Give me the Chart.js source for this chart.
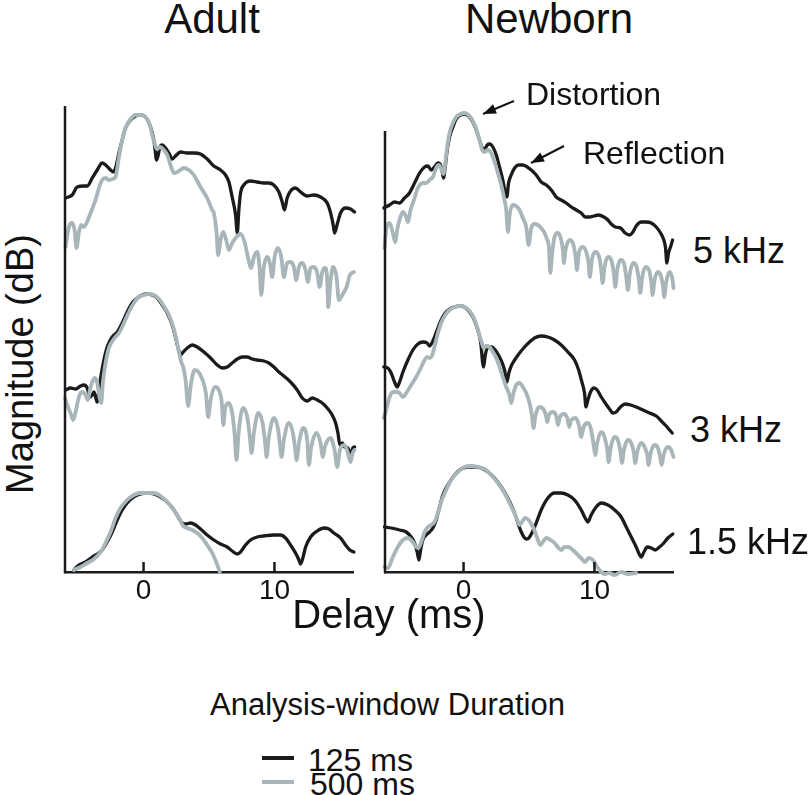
<!DOCTYPE html>
<html>
<head>
<meta charset="utf-8">
<script src="https://cdn.jsdelivr.net/npm/chart.js@4.4.1/dist/chart.umd.min.js"></script>
<style>
  html, body { margin:0; padding:0; background:#fff; }
  body { width:810px; height:795px; position:relative; overflow:hidden; font-family:"Liberation Sans", Arial, Helvetica, sans-serif; color:#111; }
  .t { position:absolute; line-height:1; white-space:nowrap; }
  canvas { position:absolute; }
</style>
</head>
<body>
<script>
// ---------------- data (delay in ms, relative magnitude) ----------------
const xTicks = [0, 10];
const panelTitles = ["Adult", "Newborn"];
const freqLabels = ["5 kHz", "3 kHz", "1.5 kHz"];
const legendLabels = ["125 ms", "500 ms"];

const adult5k_125 = [[-5.95,374],[-5.45,377],[-5.07,385],[-4.56,386],[-4.30,386],[-3.92,394],[-3.54,402],[-3.16,409],[-2.90,407],[-2.52,402],[-2.32,400],[-2.14,404],[-1.88,419],[-1.63,432],[-1.38,444],[-0.99,452],[-0.61,456],[-0.23,457],[0.15,455],[0.48,447],[0.74,435],[0.87,424],[0.99,412],[1.12,417],[1.25,425],[1.43,427],[1.68,424],[1.94,419],[2.19,413],[2.44,416],[2.83,420],[3.33,419],[3.84,419],[4.35,418],[4.86,413],[5.37,406],[5.88,402],[6.26,397],[6.52,390],[6.77,375],[7.03,357],[7.16,339],[7.28,362],[7.41,379],[7.66,387],[8.17,391],[8.68,390],[9.19,389],[9.57,389],[9.95,387],[10.34,380],[10.59,370],[10.77,362],[10.97,374],[11.23,381],[11.61,384],[11.99,380],[12.50,376],[13.01,377],[13.52,375],[14.03,369],[14.29,359],[14.49,347],[14.59,339],[14.80,348],[15.05,359],[15.43,364],[15.81,363],[16.12,360]];
const adult5k_500 = [[-5.96,325],[-5.70,345],[-5.45,349],[-5.27,342],[-5.12,324],[-4.94,340],[-4.76,347],[-4.56,345],[-4.35,349],[-4.05,359],[-3.67,372],[-3.41,384],[-3.16,392],[-2.90,394],[-2.65,392],[-2.39,393],[-2.14,395],[-1.88,415],[-1.63,432],[-1.38,444],[-0.99,453],[-0.61,457],[-0.23,457],[0.15,455],[0.48,447],[0.66,437],[0.84,429],[1.04,423],[1.25,425],[1.55,422],[1.81,417],[2.06,407],[2.32,399],[2.70,401],[3.08,404],[3.46,402],[3.84,397],[4.35,385],[4.86,374],[5.24,362],[5.37,359],[5.58,339],[5.70,317],[5.88,332],[6.09,340],[6.31,332],[6.52,322],[6.77,329],[7.10,335],[7.41,338],[7.72,330],[7.97,315],[8.22,304],[8.43,315],[8.68,320],[8.86,305],[8.99,277],[9.19,305],[9.45,315],[9.65,309],[9.83,295],[10.01,315],[10.26,324],[10.52,315],[10.72,295],[10.97,309],[11.23,310],[11.48,305],[11.66,292],[11.87,305],[12.12,309],[12.38,302],[12.55,290],[12.76,304],[13.01,305],[13.27,299],[13.45,285],[13.65,300],[13.90,304],[14.03,292],[14.11,265],[14.29,292],[14.49,305],[14.74,295],[14.92,272],[15.18,277],[15.51,285],[15.76,297],[16.07,300]];
const adult3k_125 = [[-5.96,182],[-5.58,184],[-5.19,183],[-4.81,186],[-4.56,187],[-4.30,184],[-4.10,175],[-3.92,177],[-3.79,180],[-3.67,175],[-3.54,170],[-3.41,182],[-3.28,194],[-3.03,212],[-2.78,225],[-2.39,235],[-2.01,240],[-1.63,249],[-1.25,260],[-0.87,269],[-0.48,274],[-0.10,277],[0.28,278],[0.66,277],[1.04,274],[1.43,267],[1.81,259],[2.19,247],[2.44,235],[2.62,225],[2.83,217],[3.03,220],[3.34,224],[3.72,227],[4.10,225],[4.61,220],[5.12,214],[5.63,207],[6.01,204],[6.39,205],[6.77,209],[7.16,213],[7.54,215],[7.92,215],[8.30,213],[8.68,212],[9.19,211],[9.57,209],[9.96,205],[10.34,200],[10.72,196],[11.23,190],[11.74,182],[12.12,174],[12.50,171],[12.89,174],[13.27,172],[13.65,169],[14.03,164],[14.41,157],[14.67,149],[14.85,139],[15.00,127],[15.18,129],[15.36,125],[15.61,124],[15.81,118],[15.99,124],[16.12,125]];
const adult3k_500 = [[-6.0,174],[-5.83,167],[-5.58,159],[-5.37,152],[-5.19,160],[-4.94,175],[-4.69,180],[-4.43,177],[-4.25,172],[-4.10,182],[-3.92,190],[-3.72,194],[-3.54,189],[-3.36,175],[-3.23,169],[-3.11,189],[-2.90,209],[-2.65,224],[-2.27,233],[-1.88,239],[-1.50,249],[-1.12,260],[-0.74,269],[-0.36,275],[0.03,277],[0.41,278],[0.79,277],[1.17,273],[1.55,266],[1.94,257],[2.27,245],[2.52,232],[2.70,220],[2.88,210],[3.03,205],[3.21,192],[3.41,166],[3.59,185],[3.90,202],[4.20,200],[4.51,192],[4.76,179],[4.94,155],[5.12,172],[5.45,185],[5.78,181],[5.98,169],[6.09,147],[6.24,164],[6.52,169],[6.77,159],[6.95,139],[7.10,112],[7.28,142],[7.61,164],[7.92,155],[8.12,135],[8.25,119],[8.43,139],[8.76,159],[9.09,149],[9.29,129],[9.40,115],[9.57,135],[9.96,154],[10.26,144],[10.44,125],[10.54,115],[10.72,132],[11.10,149],[11.41,139],[11.59,122],[11.69,112],[11.87,129],[12.20,144],[12.50,132],[12.63,107],[12.81,125],[13.22,139],[13.52,129],[13.70,115],[13.85,125],[14.29,134],[14.59,122],[14.80,105],[15.00,122],[15.36,127],[15.61,119],[15.81,110],[15.97,119],[16.12,122]];
const adult15k_125 = [[-5.32,2],[-4.94,7],[-4.43,10],[-3.92,15],[-3.41,19],[-3.16,22],[-2.78,30],[-2.39,40],[-2.01,52],[-1.63,62],[-1.25,69],[-0.74,75],[-0.23,78],[0.28,79],[0.79,78],[1.30,75],[1.81,70],[2.32,62],[2.70,54],[2.95,49],[3.21,48],[3.59,49],[3.97,47],[4.35,43],[4.86,37],[5.37,32],[5.88,28],[6.39,25],[6.77,21],[7.16,18],[7.41,20],[7.79,27],[8.17,32],[8.68,35],[9.19,36],[9.96,37],[10.47,37],[10.85,34],[11.23,27],[11.61,19],[11.87,12],[11.99,8],[12.17,14],[12.38,25],[12.76,35],[13.27,41],[13.78,44],[14.16,43],[14.54,39],[15.05,34],[15.43,27],[15.76,22],[16.07,20]];
const adult15k_500 = [[-5.32,2],[-4.81,5],[-4.30,9],[-3.79,13],[-3.28,20],[-2.90,29],[-2.52,40],[-2.14,54],[-1.76,64],[-1.25,72],[-0.74,77],[-0.23,79],[0.28,79],[0.79,79],[1.30,76],[1.81,70],[2.32,62],[2.70,54],[3.03,46],[3.34,44],[3.72,42],[4.10,39],[4.48,34],[4.86,27],[5.25,19],[5.58,9],[5.83,0]];

const newborn5k_125 = [[-6.09,364],[-5.65,367],[-5.27,370],[-4.89,369],[-4.51,374],[-4.13,379],[-3.74,389],[-3.36,399],[-2.98,405],[-2.72,406],[-2.47,402],[-2.22,405],[-1.96,409],[-1.76,407],[-1.63,400],[-1.53,394],[-1.40,405],[-1.25,422],[-1.07,435],[-0.81,445],[-0.56,453],[-0.23,457],[0.08,458],[0.38,456],[0.71,450],[0.97,442],[1.22,432],[1.40,425],[1.60,423],[1.81,427],[1.99,428],[2.24,425],[2.50,417],[2.75,405],[3.00,392],[3.18,380],[3.31,375],[3.44,389],[3.64,397],[3.90,404],[4.20,407],[4.53,407],[4.86,405],[5.17,402],[5.55,397],[5.93,390],[6.32,387],[6.70,382],[7.08,375],[7.46,372],[7.84,369],[8.23,365],[8.61,362],[8.99,359],[9.29,355],[9.63,355],[9.96,356],[10.31,357],[10.72,355],[11.03,352],[11.28,348],[11.59,345],[11.99,344],[12.35,339],[12.68,337],[12.94,340],[13.19,346],[13.57,350],[13.95,350],[14.34,349],[14.72,345],[15.05,339],[15.30,332],[15.43,324],[15.53,309],[15.66,319],[15.81,325],[15.97,332]];
const newborn5k_500 = [[-6.04,324],[-5.91,342],[-5.65,349],[-5.40,339],[-5.22,330],[-5.07,342],[-4.89,352],[-4.63,360],[-4.38,355],[-4.25,350],[-4.05,362],[-3.79,372],[-3.49,384],[-3.11,389],[-2.85,389],[-2.60,392],[-2.34,395],[-2.09,404],[-1.91,407],[-1.76,405],[-1.63,400],[-1.53,398],[-1.40,409],[-1.25,425],[-1.07,439],[-0.81,449],[-0.56,455],[-0.23,458],[0.08,459],[0.38,457],[0.71,451],[0.97,443],[1.22,432],[1.40,423],[1.60,420],[1.86,422],[2.11,419],[2.37,410],[2.62,399],[2.88,387],[3.08,375],[3.26,362],[3.39,340],[3.54,359],[3.77,367],[4.02,366],[4.28,362],[4.53,354],[4.79,345],[4.97,327],[5.17,344],[5.42,348],[5.68,347],[5.93,344],[6.19,339],[6.39,332],[6.52,325],[6.62,299],[6.77,319],[6.95,335],[7.21,339],[7.46,332],[7.59,322],[7.66,309],[7.79,322],[8.10,332],[8.35,329],[8.56,315],[8.66,302],[8.81,319],[9.12,325],[9.37,320],[9.55,309],[9.65,295],[9.80,312],[10.06,320],[10.31,317],[10.52,302],[10.62,289],[10.77,305],[11.03,315],[11.28,312],[11.48,299],[11.59,285],[11.74,302],[11.99,312],[12.25,309],[12.43,295],[12.55,282],[12.71,299],[12.96,309],[13.22,305],[13.39,292],[13.50,279],[13.65,295],[13.90,305],[14.16,302],[14.34,290],[14.44,277],[14.59,292],[14.85,300],[15.05,297],[15.23,287],[15.33,275],[15.48,290],[15.74,300],[15.94,294],[16.04,284]];
const newborn3k_125 = [[-6.09,205],[-5.78,204],[-5.53,199],[-5.27,190],[-5.07,185],[-4.89,190],[-4.63,200],[-4.25,212],[-3.87,222],[-3.49,228],[-3.11,230],[-2.78,229],[-2.60,226],[-2.42,229],[-2.22,235],[-1.96,244],[-1.71,252],[-1.40,259],[-1.07,263],[-0.69,265],[-0.31,266],[0.08,265],[0.46,260],[0.79,253],[1.04,244],[1.25,234],[1.35,225],[1.45,210],[1.53,205],[1.66,217],[1.86,225],[2.16,225],[2.42,222],[2.67,217],[2.93,210],[3.13,202],[3.31,190],[3.46,199],[3.64,206],[3.90,212],[4.28,219],[4.66,225],[5.04,230],[5.42,234],[5.93,236],[6.44,235],[6.95,232],[7.46,227],[7.97,220],[8.48,212],[8.79,202],[9.04,190],[9.24,179],[9.35,165],[9.50,172],[9.70,180],[9.96,184],[10.21,182],[10.52,175],[10.82,169],[11.15,163],[11.41,159],[11.66,160],[11.99,165],[12.35,168],[12.76,167],[13.19,165],[13.70,162],[14.21,159],[14.72,156],[15.10,151],[15.48,146],[15.74,142],[15.94,139]];
const newborn3k_500 = [[-6.09,154],[-5.91,162],[-5.65,175],[-5.40,180],[-5.14,180],[-4.89,179],[-4.63,175],[-4.38,179],[-4.00,187],[-3.62,195],[-3.23,205],[-2.98,212],[-2.78,215],[-2.60,214],[-2.42,216],[-2.22,225],[-1.96,239],[-1.71,249],[-1.40,257],[-1.07,262],[-0.69,265],[-0.31,266],[0.08,265],[0.46,261],[0.79,254],[1.04,245],[1.25,235],[1.40,229],[1.55,224],[1.73,226],[1.99,225],[2.24,220],[2.50,214],[2.75,205],[3.00,195],[3.26,185],[3.51,177],[3.64,169],[3.82,179],[4.02,187],[4.28,189],[4.53,185],[4.79,179],[5.04,169],[5.22,157],[5.35,144],[5.50,157],[5.81,165],[6.14,162],[6.32,155],[6.39,150],[6.52,157],[6.82,160],[7.08,156],[7.21,147],[7.36,155],[7.66,158],[7.92,154],[8.07,145],[8.23,152],[8.56,154],[8.81,147],[8.99,135],[9.17,145],[9.50,149],[9.75,142],[9.96,125],[10.06,117],[10.21,129],[10.52,140],[10.77,135],[10.98,122],[11.08,110],[11.23,124],[11.54,135],[11.79,132],[11.99,120],[12.10,109],[12.25,122],[12.55,132],[12.81,129],[13.01,119],[13.11,109],[13.27,120],[13.57,129],[13.83,125],[14.03,117],[14.13,107],[14.29,119],[14.59,127],[14.85,124],[15.02,115],[15.13,107],[15.28,117],[15.61,125],[15.86,122],[16.04,115]];
const newborn15k_125 = [[-6.04,45],[-5.53,44],[-4.89,42],[-4.38,40],[-4.00,35],[-3.74,29],[-3.54,20],[-3.41,12],[-3.28,22],[-3.11,32],[-2.85,37],[-2.60,40],[-2.34,44],[-2.09,52],[-1.83,65],[-1.58,77],[-1.20,87],[-0.69,97],[-0.18,103],[0.33,105],[0.84,105],[1.35,104],[1.86,100],[2.37,94],[2.88,85],[3.26,77],[3.64,67],[3.95,57],[4.20,47],[4.41,40],[4.61,35],[4.79,33],[4.99,34],[5.22,39],[5.55,49],[5.93,62],[6.44,74],[6.95,79],[7.46,79],[7.97,77],[8.48,72],[8.99,62],[9.29,54],[9.50,50],[9.75,57],[10.13,65],[10.52,69],[11.03,67],[11.54,62],[12.04,55],[12.43,45],[12.81,35],[13.19,25],[13.45,17],[13.57,15],[13.78,20],[14.03,25],[14.34,24],[14.64,22],[14.97,25],[15.30,29],[15.61,34],[15.99,38]];
const newborn15k_500 = [[-6.04,5],[-5.78,4],[-5.40,15],[-5.02,25],[-4.63,32],[-4.25,34],[-3.87,30],[-3.62,25],[-3.44,24],[-3.23,30],[-2.98,40],[-2.72,45],[-2.47,47],[-2.22,50],[-1.96,59],[-1.71,70],[-1.40,80],[-0.94,92],[-0.43,100],[0.08,105],[0.59,106],[1.09,105],[1.60,103],[2.11,97],[2.62,89],[3.13,79],[3.51,69],[3.85,60],[4.10,52],[4.28,47],[4.46,50],[4.71,54],[4.97,52],[5.22,47],[5.47,40],[5.68,32],[5.86,27],[6.06,30],[6.32,34],[6.65,32],[6.95,29],[7.26,24],[7.46,22],[7.72,25],[8.02,25],[8.35,22],[8.73,17],[9.04,13],[9.29,10],[9.55,14],[9.88,12],[10.21,5],[10.52,0],[10.77,-2],[11.15,-1],[11.54,-3],[12.04,0],[12.55,-2],[13.19,-1]];

// ---------------- styling ----------------
const BLACK = '#1b1b1b', GRAY = '#a8b5b9', AXIS = '#1b1b1b';
const FONT = '"Liberation Sans", Arial, Helvetica, sans-serif';

const axisDecor = {
  id: 'axisDecor',
  afterDraw(chart, args, opts) {
    const {ctx, chartArea} = chart;
    const xs = chart.scales.x, ys = chart.scales.y;
    ctx.save();
    ctx.strokeStyle = AXIS; ctx.lineWidth = 2.5;
    ctx.beginPath();
    ctx.moveTo(chartArea.left, ys.getPixelForValue(opts.axisTop));
    ctx.lineTo(chartArea.left, chartArea.bottom + 1.2);
    ctx.stroke();
    xs.ticks.forEach(t => {
      const px = xs.getPixelForValue(t.value);
      ctx.beginPath();
      ctx.moveTo(px, chartArea.bottom);
      ctx.lineTo(px, chartArea.bottom - 10);
      ctx.stroke();
    });
    ctx.restore();
  }
};

function ds(arr, color, width, order) {
  return {
    data: arr.map(p => ({x: p[0], y: p[1]})),
    borderColor: color, borderWidth: width, pointRadius: 0,
    cubicInterpolationMode: 'monotone', fill: false, clip: false, order: order,
    borderJoinStyle: 'round', borderCapStyle: 'round'
  };
}

function makePanel(left, series, axisTop) {
  const c = document.createElement('canvas');
  c.width = 310; c.height = 536;
  c.style.left = left + 'px'; c.style.top = '96px';
  c.style.width = '310px'; c.style.height = '536px';
  document.body.appendChild(c);
  new Chart(c, {
    type: 'line',
    data: { datasets: series },
    options: {
      responsive: false, animation: false, devicePixelRatio: 1, events: [],
      layout: { padding: { left: 6, right: 16, top: 4, bottom: 0 } },
      plugins: { legend: { display: false }, tooltip: { enabled: false }, axisDecor: { axisTop: axisTop } },
      scales: {
        x: {
          type: 'linear', min: -6, max: 16,
          afterBuildTicks: s => { s.ticks = xTicks.map(v => ({value: v})); },
          afterFit: s => { s.height = 60; },
          grid: { display: false, drawTicks: false },
          border: { display: true, color: AXIS, width: 2.5 },
          ticks: { autoSkip: false, maxRotation: 0, padding: 2, color: '#111', font: { family: FONT, size: 28 } }
        },
        y: { type: 'linear', min: 0, max: 472, display: false }
      }
    },
    plugins: [axisDecor]
  });
}

makePanel(59, [
  ds(adult5k_500, GRAY, 3.8, 0), ds(adult3k_500, GRAY, 3.8, 0), ds(adult15k_500, GRAY, 3.8, 0),
  ds(adult5k_125, BLACK, 3.3, 1), ds(adult3k_125, BLACK, 3.3, 1), ds(adult15k_125, BLACK, 3.3, 1)
], 466);
makePanel(379, [
  ds(newborn5k_500, GRAY, 3.8, 0), ds(newborn3k_500, GRAY, 3.8, 0), ds(newborn15k_500, GRAY, 3.8, 0),
  ds(newborn5k_125, BLACK, 3.3, 1), ds(newborn3k_125, BLACK, 3.3, 1), ds(newborn15k_125, BLACK, 3.3, 1)
], 441);

// ---------------- texts ----------------
function txt(s, css) {
  const d = document.createElement('div');
  d.className = 't'; d.textContent = s;
  d.style.cssText += css;
  document.body.appendChild(d);
  return d;
}
txt(panelTitles[0], 'left:212px;top:-2px;font-size:42px;transform:translateX(-50%);');
txt(panelTitles[1], 'left:549px;top:-2px;font-size:42px;transform:translateX(-50%);');
txt('Distortion', 'left:526px;top:78px;font-size:32px;');
txt('Reflection', 'left:583px;top:137px;font-size:32px;');
txt(freqLabels[0], 'left:693px;top:233px;font-size:36px;');
txt(freqLabels[1], 'left:690px;top:412px;font-size:36px;');
txt(freqLabels[2], 'left:687px;top:524px;font-size:36px;');
txt('Delay (ms)', 'left:389px;top:594px;font-size:40px;transform:translateX(-50%);');
txt('Magnitude (dB)', 'left:20px;top:364px;font-size:38px;transform:translate(-50%,-50%) rotate(-90deg);');
txt('Analysis-window Duration', 'left:210px;top:689px;font-size:31px;');
txt(legendLabels[0], 'left:308px;top:744px;font-size:32px;');
txt(legendLabels[1], 'left:310px;top:768px;font-size:32px;');

// legend swatches and arrows
const svgNS = 'http://www.w3.org/2000/svg';
const svg = document.createElementNS(svgNS, 'svg');
svg.setAttribute('width', '810'); svg.setAttribute('height', '795');
svg.style.position = 'absolute'; svg.style.left = '0'; svg.style.top = '0';
function line(x1, y1, x2, y2, color, w) {
  const l = document.createElementNS(svgNS, 'line');
  l.setAttribute('x1', x1); l.setAttribute('y1', y1); l.setAttribute('x2', x2); l.setAttribute('y2', y2);
  l.setAttribute('stroke', color); l.setAttribute('stroke-width', w);
  svg.appendChild(l);
}
function arrow(x1, y1, x2, y2) {
  line(x1, y1, x2, y2, '#111', 2);
  const a = Math.atan2(y2 - y1, x2 - x1), L = 13, W = 5;
  const bx = x2 - L * Math.cos(a), by = y2 - L * Math.sin(a);
  const p = document.createElementNS(svgNS, 'polygon');
  p.setAttribute('points', `${x2},${y2} ${bx + W*Math.sin(a)},${by - W*Math.cos(a)} ${bx - W*Math.sin(a)},${by + W*Math.cos(a)}`);
  p.setAttribute('fill', '#111');
  svg.appendChild(p);
}
line(262, 758, 294, 758, BLACK, 4);
line(262, 782, 294, 782, GRAY, 4);
arrow(514, 101, 483, 114);
arrow(564, 146, 531, 163);
document.body.appendChild(svg);
</script>
</body>
</html>
